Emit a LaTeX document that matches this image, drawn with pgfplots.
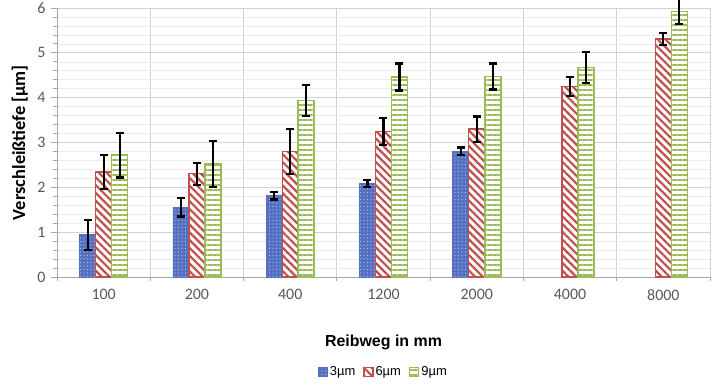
\documentclass[border=0pt]{standalone}
\usepackage{fontspec}
\setmainfont{Carlito}
\newfontfamily\arialfont{Liberation Sans}
\usepackage{pgfplots}
\pgfplotsset{compat=1.18}
\usetikzlibrary{patterns.meta}
\definecolor{cblue}{HTML}{5470C0}
\definecolor{cred}{HTML}{C0504D}
\definecolor{cgreen}{HTML}{9BBB59}
\definecolor{tickgray}{HTML}{595959}
\begin{document}
\begin{tikzpicture}
\path[use as bounding box] (-57bp,-108bp) rectangle (658bp,277bp);
\begin{axis}[
  at={(0,0)}, anchor=south west,
  scale only axis, width=653bp, height=269bp,
  ybar=0pt, bar width=16bp,
  legend image code/.code={\draw[#1] (0bp,-4.5bp) rectangle (9bp,4.5bp);},
  xmin=-0.5, xmax=6.5, ymin=0, ymax=6,
  xtick={0,...,6}, xticklabels={100,200,400,1200,2000,4000,8000},
  minor xtick={-0.5,0.5,...,6.5},
  ytick={0,...,6}, minor y tick num=4,
  axis x line*=bottom, axis y line*=left,
  axis line style={draw=gray!70, line width=0.8bp},
  tick align=outside,
  major tick length=6bp, minor tick length=4bp,
  major x tick style={draw=none},
  minor x tick style={draw=gray!70, line width=0.8bp},
  y tick style={draw=gray!70, line width=0.8bp},
  xminorgrids=true, ymajorgrids=true, yminorgrids=true,
  minor x grid style={draw=gray!35, line width=0.8bp},
  major y grid style={draw=gray!35, line width=0.8bp},
  minor y grid style={draw=gray!15, line width=0.6bp},
  /pgf/number format/assume math mode=true,
  tick label style={font=\fontsize{16}{18}\selectfont, text=tickgray},
  xticklabel style={yshift=-3bp},
  yticklabel style={xshift=-2bp},
  ylabel={\bfseries Verschleißtiefe [µm]},
  ylabel style={at={(axis description cs:-0.057,0.5)}, anchor=center, rotate=0, font=\fontsize{18.5}{20}\selectfont},
  xlabel={\bfseries Reibweg in mm},
  xlabel style={at={(axis description cs:0.5,-0.242)}, anchor=center, font=\arialfont\fontsize{16}{18}\selectfont},
  legend style={at={(axis description cs:0.5,-0.353)}, anchor=center, legend columns=-1, draw=none, fill=none,
    font=\arialfont\fontsize{13}{15}\selectfont,
    /tikz/every even column/.append style={column sep=6bp}},
  error bars/y dir=both, error bars/y explicit,
  error bars/error bar style={line width=2.2bp, black},
  error bars/error mark options={rotate=90, mark size=4bp, line width=2.2bp, black},
  clip=false,
]
\addplot[draw=cblue, fill=cblue, line width=0.8bp,
  postaction={pattern={Dots[radius=0.7bp, distance=3.5bp]}, pattern color=cblue!45!white}]
  coordinates {(0,0.94) +- (0,0.33) (1,1.56) +- (0,0.21) (2,1.81) +- (0,0.08) (3,2.09) +- (0,0.08) (4,2.81) +- (0,0.08)};
\addplot[draw=cred, fill=white, line width=1.2bp,
  postaction={pattern={Lines[angle=-45, distance=5.5bp, line width=2.2bp]}, pattern color=cred}]
  coordinates {(0,2.34) +- (0,0.38) (1,2.30) +- (0,0.24) (2,2.80) +- (0,0.50) (3,3.24) +- (0,0.30) (4,3.30) +- (0,0.28) (5,4.25) +- (0,0.21) (6,5.31) +- (0,0.14)};
\addplot[draw=cgreen, fill=white, line width=1.5bp,
  postaction={pattern={Lines[angle=0, distance=5bp, line width=2.5bp]}, pattern color=cgreen}]
  coordinates {(0,2.72) +- (0,0.50) (1,2.52) +- (0,0.52) (2,3.94) +- (0,0.35) (3,4.46) +- (0,0.30) (4,4.47) +- (0,0.29) (5,4.67) +- (0,0.34) (6,5.92) +- (0,0.28)};
\legend{3µm, 6µm, 9µm}
\end{axis}
\end{tikzpicture}
\end{document}
